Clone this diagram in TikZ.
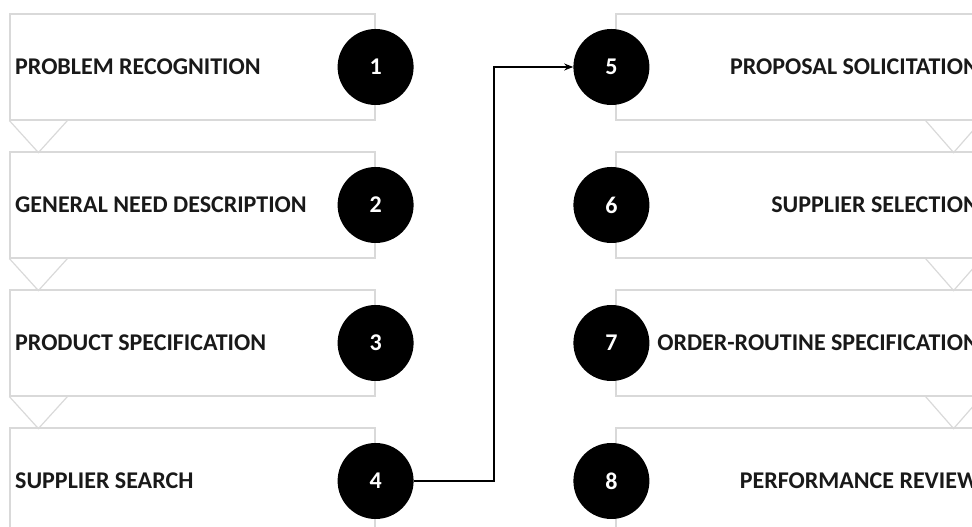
\documentclass[tikz,border=0pt]{standalone}
\usepackage{fontspec}
\setmainfont{Carlito}
\usetikzlibrary{arrows.meta,calc}
\begin{document}
\begin{tikzpicture}[x=1pt,y=1pt,
  stagebox/.style={draw=black!15,line width=1.2pt,fill=white,rectangle,minimum width=365pt,minimum height=106pt,inner sep=0pt},
  chev/.style={draw=black!15,line width=1.2pt},
  num/.style={circle,fill=black,minimum size=76pt,inner sep=0pt,text=white,font=\fontsize{24}{28}\selectfont\bfseries},
  lbl/.style={inner sep=0pt,font=\fontsize{24}{28}\selectfont\bfseries,text=black!90},
  flow/.style={line width=1.8pt,-{Stealth[length=9pt,width=7pt]}}]
\useasboundingbox (0,0) rectangle (972,527);
\clip (0,0) rectangle (972,527);
% left column
\foreach \k/\t in {1/PROBLEM RECOGNITION,2/GENERAL NEED DESCRIPTION,3/PRODUCT SPECIFICATION,4/SUPPLIER SEARCH}{
  \pgfmathsetmacro{\cy}{527-67-138*(\k-1)}
  \node[stagebox] (L\k) at (192.5,\cy) {};
  \node[lbl,anchor=west] (LT\k) at (15,\cy) {\t};
}
\foreach \k/\t in {5/PROPOSAL SOLICITATION,6/SUPPLIER SELECTION,7/ORDER-ROUTINE SPECIFICATION,8/PERFORMANCE REVIEW}{
  \pgfmathsetmacro{\cy}{527-67-138*(\k-5)}
  \node[stagebox] (R\k) at (798.5,\cy) {};
  \node[lbl,anchor=east] (RT\k) at (979,\cy) {\t};
}
% chevrons
\foreach \k in {1,2,3}{
  \draw[chev] (L\k.south west) -- ++(29,-32) -- ++(29,32);
}
\foreach \k in {5,6,7,8}{
  \draw[chev] (R\k.south east) -- ++(-28,-32) -- ++(-28,32);
}
% numbers
\foreach \k in {1,2,3,4}{
  \node[num] (C\k) at (L\k.east) {\k};
}
\foreach \k in {5,6,7,8}{
  \node[num] (C\k) at ($(R\k.west)+(-4,0)$) {\k};
}
\coordinate (bend) at (494,0);
\draw[flow] (C4.east) -| (bend |- C5.west) -- (C5.west);
\end{tikzpicture}
\end{document}
